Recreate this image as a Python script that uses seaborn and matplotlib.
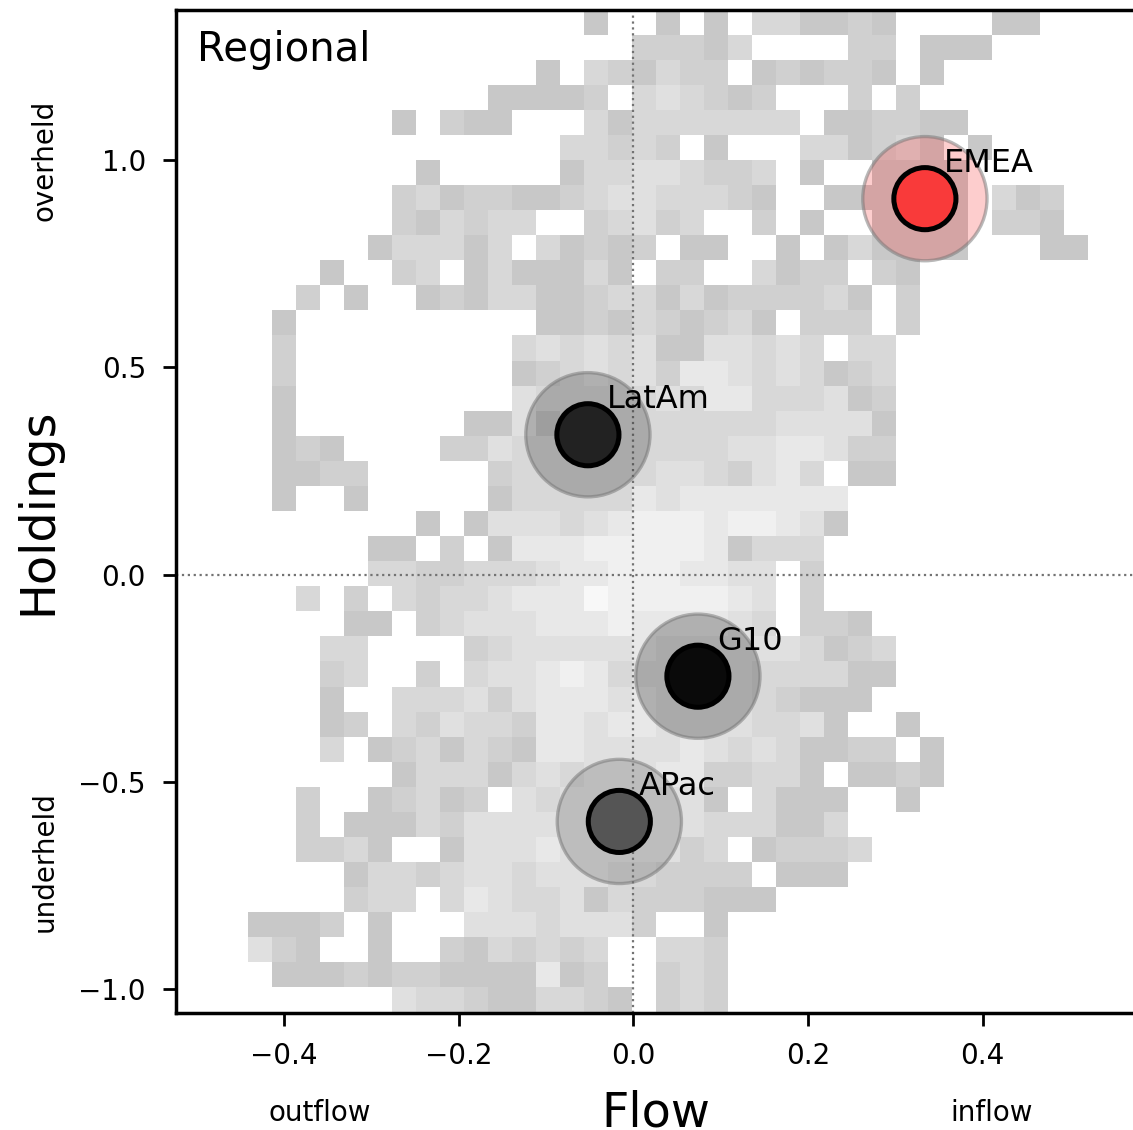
import numpy as np
import pandas as pd
import matplotlib
matplotlib.use("Agg")
import matplotlib.pyplot as plt
from matplotlib.colors import LinearSegmentedColormap, to_rgba
import seaborn as sns

# ---------------- data ----------------
regions = ["EMEA", "LatAm", "G10", "APac"]
flow = [0.334, -0.052, 0.074, -0.016]
holdings = [0.906, 0.337, -0.245, -0.595]
region_colors = ["#f93a3a", "#222222", "#0a0a0a", "#555555"]

x_range = (-0.5238, 0.5758)
y_range = (-1.0555, 1.3619)
n_bins = 40

# background density levels, top row first, 40 columns (0 = empty)
density_rows = [
    "0000000000" "0000000100" "1010331121" "0000110000",
    "0000000000" "0000000002" "2213000022" "0111000000",
    "0000000000" "0000010321" "3220121221" "0100000000",
    "0000000000" "0001111203" "4321200020" "2000000000",
    "0000000001" "0211000313" "3333330112" "2110000000",
    "0000000000" "0000003323" "2010003312" "3101000000",
    "0000000000" "1000001334" "4322301001" "1110000000",
    "0000000002" "3122112344" "3332100111" "1110312000",
    "0000000002" "1323300234" "2300201001" "1110221000",
    "0000000013" "3313031212" "0110010131" "1110001100",
    "0000001002" "3013111310" "2200312202" "1000000000",
    "0000020100" "1213311233" "1312222310" "2000000000",
    "0000100000" "0000011213" "2123102220" "2000000000",
    "0000200000" "0000343434" "1144343033" "0000000000",
    "0000200000" "0000123434" "2554343123" "0000000000",
    "0000100000" "0000433333" "4355333412" "0000000000",
    "0000100000" "0011413333" "3333344441" "0000000000",
    "0000121000" "0224333333" "3334455422" "0000000000",
    "0000112200" "0002333333" "4432453011" "0000000000",
    "0000100100" "0001333335" "4555555500" "0000000000",
    "0000000000" "1014443456" "6656654100" "0000000000",
    "0000000011" "0201555666" "6651333000" "0000000000",
    "0000000033" "2233345566" "6554402000" "0000000000",
    "0000030203" "2334555766" "6665402000" "0000000000",
    "0000000110" "2344455565" "5554302210" "0000000000",
    "0000003300" "0023444445" "4444443123" "0000000000",
    "0000002300" "2034456534" "4444333311" "0000000000",
    "0000001003" "3342455545" "4444321110" "0000000000",
    "0000001203" "2433255455" "4444334100" "1000000000",
    "0000003012" "3132155444" "4543431122" "0100000000",
    "0000000001" "3331343444" "5522331011" "2100000000",
    "0000020012" "3120434444" "4410311100" "1000000000",
    "0000020111" "3244444444" "4433311300" "0000000000",
    "0000022310" "0144454444" "4230122230" "0000000000",
    "0000000133" "2344344433" "2222011100" "0000000000",
    "0000000233" "0354334132" "2211100000" "0000000000",
    "0001112010" "0044434442" "0010000000" "0000000000",
    "0004210010" "0213232300" "3320000000" "0000000000",
    "0000111212" "2111151200" "2320000000" "0000000000",
    "0000000004" "3321133210" "2320000000" "0000000000",
]

x_ticks = [-0.4, -0.2, 0.0, 0.2, 0.4]
y_ticks = [-1.0, -0.5, 0.0, 0.5, 1.0]

# ---------------- style ----------------
sns.set_style("ticks")
plt.rcParams.update({
    "font.family": ["DejaVu Sans"],
    "text.color": "black",
    "axes.labelcolor": "black",
    "axes.linewidth": 1.25,
    "xtick.major.size": 4.8,
    "ytick.major.size": 4.8,
    "xtick.major.width": 1.0,
    "ytick.major.width": 1.0,
    "xtick.major.pad": 6,
    "ytick.major.pad": 6,
    "xtick.labelsize": 10,
    "ytick.labelsize": 10,
    "xtick.color": "black",
    "ytick.color": "black",
    "axes.edgecolor": "black",
})

W, H, DPI = 1133, 1130, 200
fig = plt.figure(figsize=(W / DPI, H / DPI), dpi=DPI)
ax = fig.add_axes([176 / W, 117.5 / H, 960 / W, 1003 / H])

# ---------------- background density ----------------
grid = np.array([[int(c) for c in row] for row in density_rows[::-1]], dtype=float)
x_edges = np.linspace(x_range[0], x_range[1], n_bins + 1)
y_edges = np.linspace(y_range[0], y_range[1], n_bins + 1)
xc = (x_edges[:-1] + x_edges[1:]) / 2
yc = (y_edges[:-1] + y_edges[1:]) / 2
XX, YY = np.meshgrid(xc, yc)
cells = pd.DataFrame({"x": XX.ravel(), "y": YY.ravel(), "w": grid.ravel()})
cells = cells[cells["w"] > 0]

cell_cmap = LinearSegmentedColormap.from_list("cells", ["#c8c8c8", "#f8f8f8"])
sns.histplot(data=cells, x="x", y="y", weights="w", bins=n_bins,
             binrange=(x_range, y_range), cmap=cell_cmap, vmin=1, vmax=7,
             ax=ax, zorder=1)

# reference lines
ax.axvline(0, color="0.45", ls=":", lw=0.8, zorder=2)
ax.axhline(0, color="0.45", ls=":", lw=0.8, zorder=2)

# ---------------- points ----------------
pts = pd.DataFrame({"region": regions, "flow": flow, "holdings": holdings})
halo_pal = {r: to_rgba(c, 0.25) for r, c in zip(regions, region_colors)}
core_pal = {r: c for r, c in zip(regions, region_colors)}

sns.scatterplot(data=pts, x="flow", y="holdings", hue="region", palette=halo_pal,
                s=2000, edgecolor=(0.45, 0.45, 0.45, 0.5), linewidth=1.2,
                legend=False, ax=ax, zorder=3)
sns.scatterplot(data=pts, x="flow", y="holdings", hue="region", palette=core_pal,
                s=500, edgecolor="black", linewidth=1.8,
                legend=False, ax=ax, zorder=4)

for r, xv, yv in zip(regions, flow, holdings):
    ax.annotate(r, (xv, yv), xytext=(7, 7), textcoords="offset points",
                ha="left", va="bottom", fontsize=11.5, color="black", zorder=5)

# ---------------- axes ----------------
ax.set_xlim(*x_range)
ax.set_ylim(*y_range)
ax.set_xticks(x_ticks)
ax.set_yticks(y_ticks)
ax.set_xlabel("Flow", fontsize=17.2, labelpad=6.8)
ax.set_ylabel("Holdings", fontsize=17.2, labelpad=6)

ax.text(0.022, 0.98, "Regional", transform=ax.transAxes, ha="left", va="top",
        fontsize=14.5, zorder=6)
ax.text(0.15, -0.10, "outflow", transform=ax.transAxes, ha="center", va="center", fontsize=10)
ax.text(0.85, -0.10, "inflow", transform=ax.transAxes, ha="center", va="center", fontsize=10)
ax.text(-0.137, 0.85, "overheld", transform=ax.transAxes, rotation=90,
        ha="center", va="center", fontsize=10)
ax.text(-0.137, 0.15, "underheld", transform=ax.transAxes, rotation=90,
        ha="center", va="center", fontsize=10)

fig.savefig("out.png", dpi=DPI)
